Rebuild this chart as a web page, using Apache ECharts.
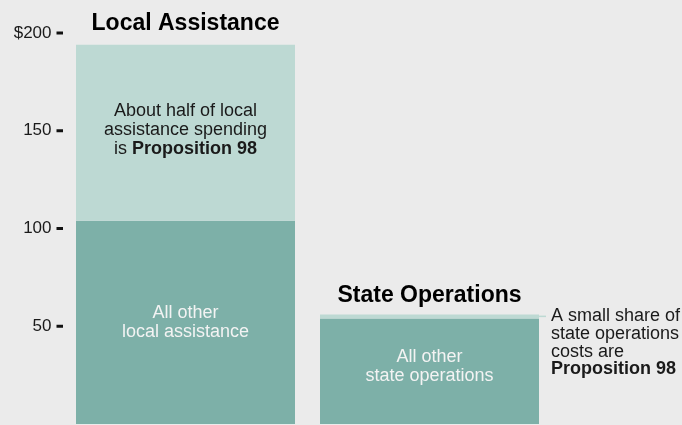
<!DOCTYPE html>
<html>
<head>
<meta charset="utf-8">
<style>
  html, body { margin: 0; padding: 0; background: #ebebeb; }
  #chart { width: 682px; height: 425px; }
</style>
<script src="https://cdn.jsdelivr.net/npm/echarts@6/dist/echarts.min.js"></script>
</head>
<body>
<div id="chart"></div>
<script>
// Spending by type (billions of dollars)
const categories = ['Local Assistance', 'State Operations'];
const otherSpending = [104, 54];   // all other spending
const prop98Spending = [90, 2];    // Proposition 98 share
const titleSpacer = [0, 0];        // zero-height segment that carries the column titles

const yTicks = [0, 50, 100, 150, 200];
const otherLabels = ['All other\nlocal assistance', 'All other\nstate operations'];

const FONT = 'Liberation Sans';
const INK = '#1a1a1a';
const LIGHT = '#bdd9d3';
const DARK = '#7db0a8';

const chart = echarts.init(document.getElementById('chart'), null, { renderer: 'canvas' });

const prop98Items = prop98Spending.map((v, i) => {
  if (i === 0) {
    return {
      value: v,
      label: {
        show: true,
        position: 'inside',
        offset: [0, -3],
        formatter: 'About half of local\nassistance spending\nis {b|Proposition 98}',
        color: INK,
        fontFamily: FONT,
        fontSize: 18,
        lineHeight: 19,
        rich: {
          b: { fontFamily: FONT, fontSize: 18, fontWeight: 'bold', color: INK, lineHeight: 19 }
        }
      }
    };
  }
  return {
    value: v,
    label: {
      show: true,
      position: ['100%', 0],
      offset: [0, -7],
      align: 'left',
      verticalAlign: 'top',
      formatter: '{dash|}{g|}A small share of\n{ind|}state operations\n{ind|}costs are\n{ind|}{b|Proposition 98}',
      color: INK,
      fontFamily: FONT,
      fontSize: 18,
      lineHeight: 17.7,
      rich: {
        dash: { width: 7, height: 1.5, backgroundColor: LIGHT },
        g: { width: 5 },
        ind: { width: 12 },
        b: { fontFamily: FONT, fontSize: 18, fontWeight: 'bold', color: INK, lineHeight: 17.7 }
      }
    }
  };
});

const titleStyle = {
  show: true,
  position: 'top',
  color: '#000',
  fontFamily: FONT,
  fontSize: 23,
  fontWeight: 'bold',
  lineHeight: 26
};

const option = {
  backgroundColor: '#ebebeb',
  animation: false,
  grid: { left: 63.5, right: 130.5, top: 33, bottom: 1, containLabel: false },
  xAxis: {
    type: 'category',
    data: categories,
    show: false
  },
  yAxis: {
    type: 'value',
    min: 0,
    max: 200,
    interval: 50,
    splitLine: { show: false },
    axisLine: { show: false },
    axisTick: { show: false },
    axisLabel: {
      margin: 0.5,
      align: 'right',
      formatter: function (val) {
        if (val === yTicks[0]) return '';
        const txt = val === yTicks[yTicks.length - 1] ? '$' + val : String(val);
        return '{v|' + txt + '}{g|}{t|}';
      },
      rich: {
        v: { fontFamily: FONT, fontSize: 17, color: INK },
        g: { width: 5 },
        t: { width: 6.5, height: 3, backgroundColor: '#111' }
      }
    }
  },
  series: [
    {
      name: 'All other',
      type: 'bar',
      stack: 'total',
      barWidth: 219,
      itemStyle: { color: DARK },
      data: otherSpending.map((v, i) => ({
        value: v,
        label: {
          show: true,
          position: 'inside',
          offset: i === 0 ? [0, 0] : [0, -5],
          formatter: otherLabels[i],
          color: '#f3f3f3',
          fontFamily: FONT,
          fontSize: 18,
          lineHeight: 19
        }
      }))
    },
    {
      name: 'Proposition 98',
      type: 'bar',
      stack: 'total',
      barWidth: 219,
      itemStyle: { color: LIGHT },
      data: prop98Items
    },
    {
      name: 'Titles',
      type: 'bar',
      stack: 'total',
      barWidth: 219,
      itemStyle: { color: 'rgba(0,0,0,0)' },
      data: titleSpacer.map((v, i) => ({
        value: v,
        label: Object.assign({}, titleStyle, {
          distance: i === 0 ? 8 : 6,
          formatter: categories[i]
        })
      }))
    }
  ]
};

chart.setOption(option);
</script>
</body>
</html>
